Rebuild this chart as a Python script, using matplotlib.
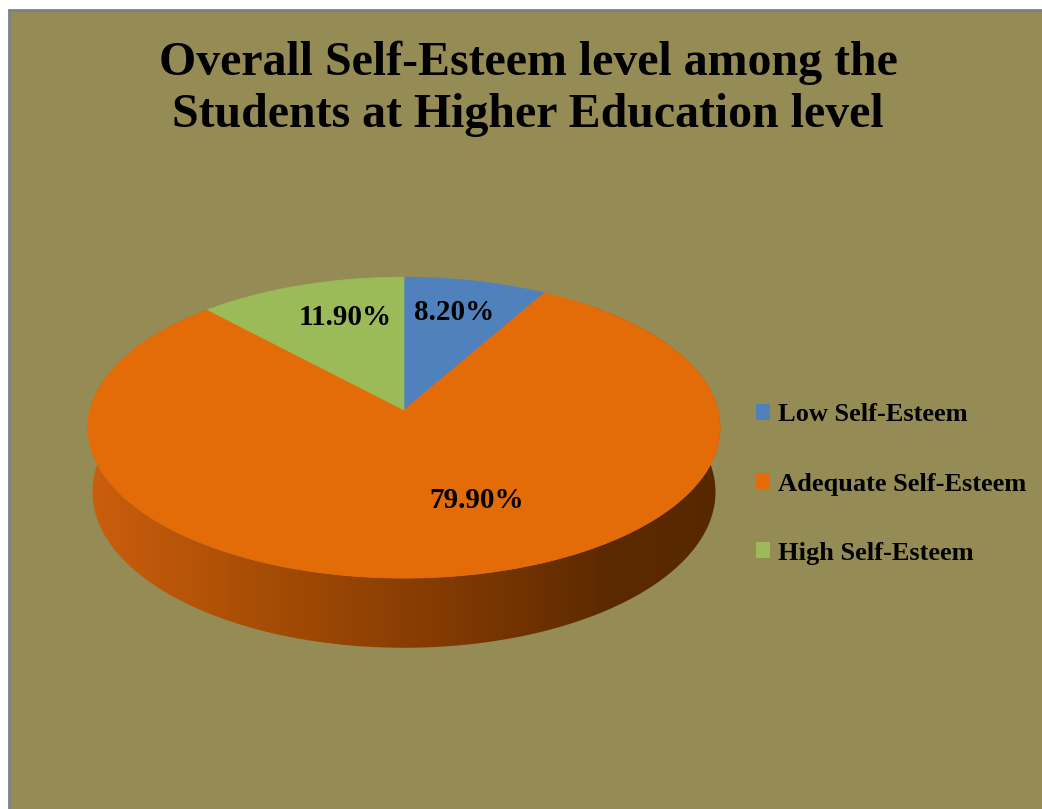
import numpy as np
import matplotlib
matplotlib.use("Agg")
import matplotlib.pyplot as plt
from matplotlib.patches import Polygon, Rectangle, Patch
from matplotlib.colors import LinearSegmentedColormap

# ---------------- data ----------------
categories = ["Low Self-Esteem", "Adequate Self-Esteem", "High Self-Esteem"]
values = [8.20, 79.90, 11.90]
value_labels = ["8.20%", "79.90%", "11.90%"]
colors = ["#4F81BD", "#E36C09", "#9BBB59"]
title = "Overall Self-Esteem level among the\nStudents at Higher Education level"

# ---------------- layout / style ----------------
W, H = 1042, 809
BG = "#958C55"
SERIF = ["Liberation Serif", "DejaVu Serif"]
CX, CY = 404, 410           # pixel position of pie centre
ELEV = np.deg2rad(28.2)     # camera elevation
DIST = 7.51                 # camera distance (in radii)
FOC = 2358                  # focal length (px)
THICK = 0.235               # pie thickness (in radii)
label_pos = [(-1.2, 0.736), (-14.0, 0.61), (4.7, 0.706)]  # (angle shift deg, radius)

fig = plt.figure(figsize=(W / 100, H / 100), dpi=100, facecolor="white")
ax = fig.add_axes([0, 0, 1, 1])
ax.set_xlim(0, W)
ax.set_ylim(H, 0)
ax.axis("off")

ax.add_patch(Rectangle((9, 10), W, H, facecolor=BG, edgecolor="#808080",
                       linewidth=2.0, zorder=0))

ce, se = np.cos(ELEV), np.sin(ELEV)


def project(theta, r=1.0, z=0.0):
    """theta measured clockwise from 12 o'clock (deg)."""
    t = np.deg2rad(theta)
    X = r * np.sin(t)
    Y = r * np.cos(t)
    depth = DIST + Y * ce - z * se
    xs = FOC * X / depth
    ys = FOC * (Y * se + z * ce) / depth
    return CX + xs, CY - ys


# side wall (front part) with horizontal gradient
th = np.linspace(40, 320, 400)
xt, yt = project(th, 1.0, 0.0)
xb, yb = project(th[::-1], 1.0, -THICK)
side = Polygon(np.column_stack([np.r_[xt, xb], np.r_[yt, yb]]), closed=True,
               facecolor="none", edgecolor="none")
ax.add_patch(side)
cmap = LinearSegmentedColormap.from_list(
    "side", [(0.0, (0.80, 0.37, 0.05)), (0.28, (0.65, 0.30, 0.02)),
             (0.55, (0.52, 0.23, 0.01)), (0.82, (0.36, 0.165, 0.0)),
             (1.0, (0.34, 0.155, 0.0))])
grad = np.linspace(0, 1, 512)[None, :]
x0, x1 = xt.min() - 2, xt.max() + 2
img = ax.imshow(grad, cmap=cmap, extent=(x0, x1, yb.max() + 5, yt.min()),
                aspect="auto", zorder=1, interpolation="bilinear")
img.set_clip_path(side)
ax.set_xlim(0, W)
ax.set_ylim(H, 0)

# top faces
fracs = np.array(values) / np.sum(values)
starts = np.r_[0, np.cumsum(fracs)[:-1]] * 360
ends = np.cumsum(fracs) * 360
for s, e, c in zip(starts, ends, colors):
    tt = np.linspace(s, e, max(int(e - s) * 3, 10))
    px, py = project(tt)
    ax.add_patch(Polygon(np.column_stack([np.r_[CX, px], np.r_[CY, py]]),
                         closed=True, facecolor=c, edgecolor=c,
                         linewidth=0.5, zorder=2))

# data labels
for s, e, lab, (dshift, rr) in zip(starts, ends, value_labels, label_pos):
    lx, ly = project((s + e) / 2 + dshift, rr)
    ax.text(lx, ly, lab, ha="center", va="center", fontsize=21,
            fontweight="bold", family=SERIF, color="black", zorder=3)

# title
ax.text(528, 89, title, ha="center", va="center", fontsize=34.5,
        fontweight="bold", family=SERIF, linespacing=1.24, zorder=3)

# legend
handles = [Patch(facecolor=c, edgecolor="none") for c in colors]
leg = ax.legend(handles, categories, loc="center left",
                bbox_to_anchor=(745 / W, 1 - 484 / H), frameon=False,
                prop={"family": SERIF, "weight": "bold", "size": 19},
                handlelength=0.55, handleheight=0.55, handletextpad=0.3,
                labelspacing=1.75, borderaxespad=0)

fig.savefig("out.png", dpi=100, facecolor="white")
